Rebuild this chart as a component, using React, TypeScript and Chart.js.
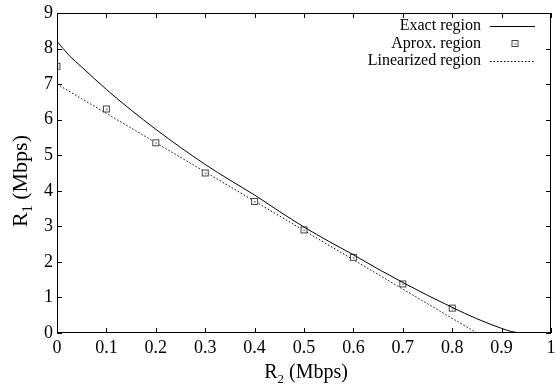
import React, { useEffect, useRef } from "react";
import { Chart, registerables } from "chart.js";

Chart.register(...registerables);

// Exact region boundary (R2, R1)
const exactR2 = [0, 0.025, 0.05, 0.1, 0.15, 0.2, 0.25, 0.3, 0.35, 0.4, 0.45, 0.5, 0.55, 0.6, 0.65, 0.7, 0.75, 0.8, 0.85, 0.9, 0.92, 0.94];
const exactR1 = [8.2, 7.8, 7.48, 6.85, 6.27, 5.73, 5.22, 4.74, 4.3, 3.88, 3.42, 2.98, 2.58, 2.2, 1.8, 1.42, 1.06, 0.72, 0.4, 0.13, 0.04, 0];

// Approximated region points
const approxR2 = [0, 0.1, 0.2, 0.3, 0.4, 0.5, 0.6, 0.7, 0.8];
const approxR1 = [7.5, 6.3, 5.35, 4.5, 3.7, 2.9, 2.13, 1.38, 0.7];

// Linearized region
const linR2 = [0, 0.85];
const linR1 = [7, 0];

const xTickValues = [0, 0.1, 0.2, 0.3, 0.4, 0.5, 0.6, 0.7, 0.8, 0.9, 1];
const yTickValues = [0, 1, 2, 3, 4, 5, 6, 7, 8, 9];
const legendLabels = ["Exact region", "Aprox. region", "Linearized region"];

const SERIF = '"Liberation Serif", "Times New Roman", serif';

function makeMarker(): HTMLCanvasElement {
  const c = document.createElement("canvas");
  c.width = 9;
  c.height = 9;
  const g = c.getContext("2d")!;
  g.fillStyle = "#fff";
  g.fillRect(1, 1, 7, 7);
  g.strokeStyle = "#444";
  g.lineWidth = 1;
  g.strokeRect(1.5, 1.5, 6, 6);
  g.fillStyle = "#666";
  g.fillRect(4, 4, 1.5, 1.5);
  return c;
}

export default function App() {
  const ref = useRef<HTMLCanvasElement>(null);

  useEffect(() => {
    if (!ref.current) return;
    const marker = makeMarker();

    const framePlugin = {
      id: "frame",
      afterDraw(chart: any) {
        const { ctx, chartArea } = chart;
        const { left, right, top, bottom } = chartArea;
        const xs = chart.scales.x;
        const ys = chart.scales.y;
        ctx.save();
        ctx.strokeStyle = "#000";
        ctx.lineWidth = 1;
        ctx.strokeRect(Math.round(left) + 0.5, Math.round(top) + 0.5, Math.round(right - left) - 1, Math.round(bottom - top) - 1);
        const tl = 5;
        ctx.beginPath();
        xTickValues.forEach((v) => {
          const px = Math.round(xs.getPixelForValue(v)) + 0.5;
          ctx.moveTo(px, bottom);
          ctx.lineTo(px, bottom - tl);
          ctx.moveTo(px, top);
          ctx.lineTo(px, top + tl);
        });
        yTickValues.forEach((v) => {
          const py = Math.round(ys.getPixelForValue(v)) + 0.5;
          ctx.moveTo(left, py);
          ctx.lineTo(left + tl, py);
          ctx.moveTo(right, py);
          ctx.lineTo(right - tl, py);
        });
        ctx.stroke();

        // Axis titles with subscripts
        const drawTitle = (sub: string, cx: number, baseline: number, rot: boolean, size: number) => {
          ctx.save();
          if (rot) {
            ctx.translate(baseline, cx);
            ctx.rotate(-Math.PI / 2);
          } else {
            ctx.translate(cx, baseline);
          }
          ctx.fillStyle = "#000";
          ctx.textBaseline = "alphabetic";
          ctx.textAlign = "left";
          const big = size + "px " + SERIF;
          const small = Math.round(size * 0.65) + "px " + SERIF;
          ctx.font = big;
          const wR = ctx.measureText("R").width;
          const wRest = ctx.measureText(" (Mbps)").width;
          ctx.font = small;
          const wS = ctx.measureText(sub).width;
          const total = wR + wS + wRest;
          let x = -total / 2;
          ctx.font = big;
          ctx.fillText("R", x, 0);
          x += wR;
          ctx.font = small;
          ctx.fillText(sub, x, 5);
          x += wS;
          ctx.font = big;
          ctx.fillText(" (Mbps)", x, 0);
          ctx.restore();
        };
        drawTitle("2", (left + right) / 2 + 2, 378, false, 20);
        drawTitle("1", 181, 26.5, true, 22);

        // Legend
        ctx.font = "16px " + SERIF;
        ctx.fillStyle = "#000";
        ctx.textAlign = "right";
        ctx.textBaseline = "middle";
        const rows = [26, 43.5, 61];
        const tx = 481;
        legendLabels.forEach((t, i) => ctx.fillText(t, tx, rows[i]));
        ctx.beginPath();
        ctx.strokeStyle = "#000";
        ctx.lineWidth = 1;
        ctx.moveTo(490, rows[0] + 0.5);
        ctx.lineTo(535, rows[0] + 0.5);
        ctx.stroke();
        ctx.drawImage(marker, 512 - 4.5 + 3, rows[1] - 4.5);
        ctx.beginPath();
        ctx.setLineDash([1.5, 2]);
        ctx.moveTo(490, rows[2] + 0.5);
        ctx.lineTo(535, rows[2] + 0.5);
        ctx.stroke();
        ctx.restore();
      },
    };

    const chart = new Chart(ref.current, {
      type: "scatter",
      data: {
        datasets: [
          {
            label: legendLabels[0],
            data: exactR2.map((x, i) => ({ x, y: exactR1[i] })),
            showLine: true,
            borderColor: "#000",
            borderWidth: 1,
            pointRadius: 0,
            cubicInterpolationMode: "monotone",
          } as any,
          {
            label: legendLabels[1],
            data: approxR2.map((x, i) => ({ x, y: approxR1[i] })),
            showLine: false,
            pointStyle: marker,
            pointRadius: 4,
          } as any,
          {
            label: legendLabels[2],
            data: linR2.map((x, i) => ({ x, y: linR1[i] })),
            showLine: true,
            borderColor: "#000",
            borderWidth: 1,
            borderDash: [1.5, 2],
            pointRadius: 0,
          } as any,
        ],
      },
      options: {
        animation: false,
        responsive: false,
        layout: { padding: { top: 13, right: 3, left: 0, bottom: 0 } },
        plugins: { legend: { display: false }, tooltip: { enabled: false } },
        scales: {
          x: {
            type: "linear",
            min: 0,
            max: 1,
            grid: { display: false, drawTicks: false },
            border: { display: false },
            afterBuildTicks: (s: any) => {
              s.ticks = xTickValues.map((value) => ({ value }));
            },
            afterFit: (s: any) => {
              s.height = 55;
              s.paddingLeft = 0;
              s.paddingRight = 0;
            },
            ticks: {
              color: "#000",
              padding: 4,
              maxRotation: 0,
              autoSkip: false,
              font: { family: SERIF, size: 18 },
              callback: (v: any) => String(Number(Number(v).toFixed(1))),
            },
          },
          y: {
            type: "linear",
            min: 0,
            max: 9,
            grid: { display: false, drawTicks: false },
            border: { display: false },
            afterBuildTicks: (s: any) => {
              s.ticks = yTickValues.map((value) => ({ value }));
            },
            afterFit: (s: any) => {
              s.width = 57;
              s.paddingTop = 0;
              s.paddingBottom = 0;
            },
            ticks: {
              color: "#000",
              padding: 4,
              autoSkip: false,
              font: { family: SERIF, size: 18 },
              callback: (v: any) => String(v),
            },
          },
        },
      },
      plugins: [framePlugin],
    } as any);

    return () => chart.destroy();
  }, []);

  return (
    <canvas
      ref={ref}
      width={556}
      height={388}
      style={{ position: "absolute", left: 0, top: 0, display: "block", background: "#fff" }}
    />
  );
}
